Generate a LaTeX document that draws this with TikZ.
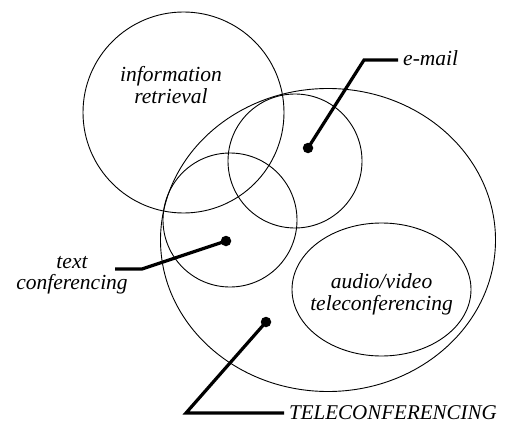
\documentclass[tikz,border=0pt]{standalone}
\usepackage{fontspec}
\setmainfont{Liberation Serif}
\begin{document}
\begin{tikzpicture}[x=1pt,y=-1pt,
  region/.style={line width=0.9pt},
  leader/.style={line width=3.2pt,line join=miter},
  dotmark/.style={circle,fill=black,inner sep=0pt,minimum size=10.5pt},
  lbl/.style={font=\fontsize{21.5}{22}\selectfont\itshape,inner sep=0pt}]
\useasboundingbox (0,0) rectangle (511,425);

% overlapping regions
\draw[region] (183.5,112.5) circle[radius=100.5];
\draw[region] (328,240) ellipse[x radius=167.5,y radius=151.5];
\draw[region] (295,161) circle[radius=67];
\draw[region] (230,220) circle[radius=67];
\draw[region] (381.5,289.5) ellipse[x radius=89.5,y radius=66.5];

% labels inside regions
\node[lbl,anchor=base] (ir1) at (171,82) {information};
\node[lbl,anchor=base] (ir2) at (171,103.5) {retrieval};
\node[lbl,anchor=base] (av1) at (381.5,288) {audio/video};
\node[lbl,anchor=base] (av2) at (381.5,310) {teleconferencing};

% outside labels
\node[lbl,anchor=base west] (email) at (403,66) {e-mail};
\node[lbl,anchor=base] (tc1) at (72,268) {text};
\node[lbl,anchor=base] (tc2) at (72,289.5) {conferencing};
\node[lbl,anchor=base west,font=\fontsize{21}{22}\selectfont\itshape] (tele) at (289,419) {TELECONFERENCING};

% dots and leader lines
\node[dotmark] (emaildot) at (308,148) {};
\node[dotmark] (textdot) at (226,241) {};
\node[dotmark] (teledot) at (266,322) {};

\coordinate (emailbend) at (364,60);
\coordinate (emailend) at (398,60);
\coordinate (textbend) at (142,269);
\coordinate (textend) at (115,269);
\coordinate (telebend) at (186,413);
\coordinate (teleend) at (284,413);

\draw[leader] (emaildot.center) -- (emailbend) -- (emailend);
\draw[leader] (textdot.center) -- (textbend) -- (textend);
\draw[leader] (teledot.center) -- (telebend) -- (teleend);
\end{tikzpicture}
\end{document}
